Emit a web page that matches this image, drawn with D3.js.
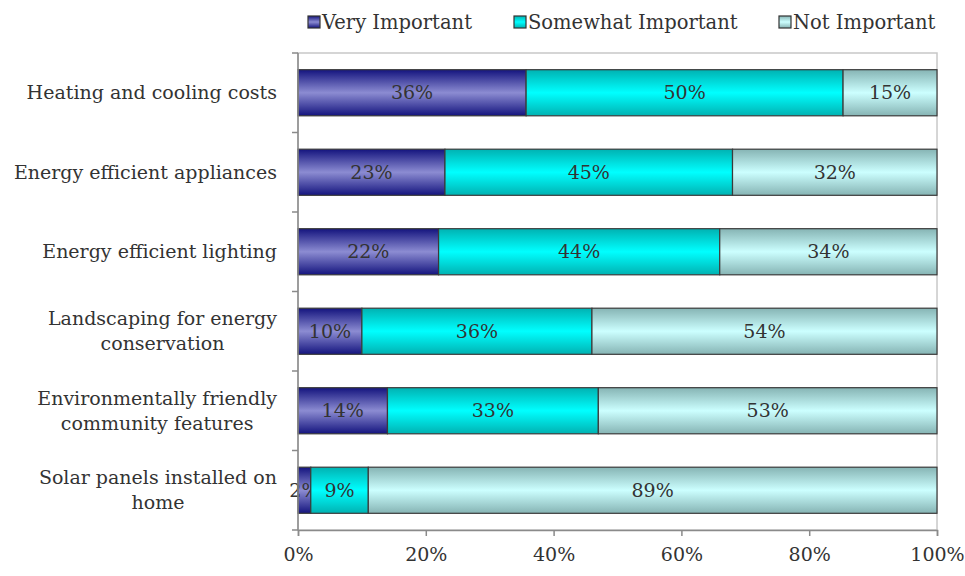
<!DOCTYPE html>
<html>
<head>
<meta charset="utf-8">
<script src="https://cdn.jsdelivr.net/npm/d3@7"></script>
<style>
  body { margin: 0; background: #fff; }
  text { font-family: "DejaVu Serif", "Liberation Serif", serif; fill: #333; }
</style>
</head>
<body>
<script>
// data
var categories = [
  "Heating and cooling costs",
  "Energy efficient appliances",
  "Energy efficient lighting",
  "Landscaping for energy|conservation",
  "Environmentally friendly|community features",
  "Solar panels installed on|home"
];
var seriesNames = ["Very Important", "Somewhat Important", "Not Important"];
var veryImportant = [35.7, 23, 22, 10, 14, 2];
var somewhatImportant = [49.6, 45, 44, 36, 33, 9];
var notImportant = [14.7, 32, 34, 54, 53, 89];
var xTicks = [0, 20, 40, 60, 80, 100];

var width = 965, height = 576;
var margin = {top: 53, right: 28, bottom: 46, left: 298};

var svg = d3.select("body").append("svg")
  .attr("width", width)
  .attr("height", height);

// gradients, light in the middle like the old office bars
var gradColors = [
  ["#14147e", "#8c8cd2"],
  ["#00b2b2", "#00ffff"],
  ["#86b4b4", "#ccffff"]
];
var defs = svg.append("defs");
gradColors.forEach(function(c, i) {
  var g = defs.append("linearGradient")
    .attr("id", "grad" + i)
    .attr("x1", 0).attr("y1", 0).attr("x2", 0).attr("y2", 1);
  g.append("stop").attr("offset", "0%").attr("stop-color", c[0]);
  g.append("stop").attr("offset", "50%").attr("stop-color", c[1]);
  g.append("stop").attr("offset", "100%").attr("stop-color", c[0]);
});

var rows = categories.map(function(c, i) {
  return {cat: c, very: veryImportant[i], some: somewhatImportant[i], not: notImportant[i]};
});
var keys = ["very", "some", "not"];
var stacked = d3.stack().keys(keys)(rows);

var x = d3.scaleLinear()
  .domain([0, 100])
  .range([margin.left, width - margin.right]);

var y = d3.scaleBand()
  .domain(categories)
  .range([margin.top, height - margin.bottom])
  .paddingInner(0.42)
  .paddingOuter(0.21);

// plot border (light)
svg.append("rect")
  .attr("x", x(0)).attr("y", margin.top)
  .attr("width", x(100) - x(0))
  .attr("height", height - margin.bottom - margin.top)
  .attr("fill", "none")
  .attr("stroke", "#c8c8c8")
  .attr("stroke-width", 1.5);

// bars
var layers = svg.append("g").selectAll("g")
  .data(stacked)
  .enter().append("g")
  .attr("fill", function(d, i) { return "url(#grad" + i + ")"; });

layers.selectAll("rect")
  .data(function(d) { return d; })
  .enter().append("rect")
  .attr("x", function(d) { return x(d[0]); })
  .attr("y", function(d) { return y(d.data.cat); })
  .attr("width", function(d) { return x(d[1]) - x(d[0]); })
  .attr("height", y.bandwidth())
  .attr("stroke", "#3a3a3a")
  .attr("stroke-width", 1.2);

// value labels
layers.selectAll("text")
  .data(function(d) { return d; })
  .enter().append("text")
  .attr("x", function(d) { return (x(d[0]) + x(d[1])) / 2; })
  .attr("y", function(d) { return y(d.data.cat) + y.bandwidth() / 2; })
  .attr("dy", "0.35em")
  .attr("text-anchor", "middle")
  .style("font-size", "19px")
  .text(function(d) { return Math.round(d[1] - d[0]) + "%"; });

// y axis
var yAxisG = svg.append("g").attr("transform", "translate(" + x(0) + ",0)");
yAxisG.append("line")
  .attr("x1", 0).attr("x2", 0)
  .attr("y1", margin.top).attr("y2", height - margin.bottom)
  .attr("stroke", "#8a8a8a").attr("stroke-width", 1.5);
d3.range(categories.length + 1).forEach(function(i) {
  var yy = margin.top + i * (height - margin.bottom - margin.top) / categories.length;
  yAxisG.append("line")
    .attr("x1", -6).attr("x2", 0)
    .attr("y1", yy).attr("y2", yy)
    .attr("stroke", "#8a8a8a").attr("stroke-width", 1.5);
});

// category labels, wrapped lines centred in a right aligned block
var labelRight = 277;
categories.forEach(function(c) {
  var lines = c.split("|");
  var g = svg.append("g");
  var cy = y(c) + y.bandwidth() / 2;
  var lh = 25;
  var texts = lines.map(function(l, j) {
    return g.append("text")
      .attr("y", cy + (j - (lines.length - 1) / 2) * lh)
      .attr("dy", "0.35em")
      .attr("text-anchor", "middle")
      .style("font-size", "19px")
      .text(l);
  });
  var w = d3.max(texts, function(t) { return t.node().getComputedTextLength(); });
  texts.forEach(function(t) { t.attr("x", labelRight - w / 2); });
});

// x axis
var xAxis = d3.axisBottom(x)
  .tickValues(xTicks)
  .tickSize(6)
  .tickPadding(12)
  .tickFormat(function(d) { return d + "%"; });
var xAxisG = svg.append("g")
  .attr("transform", "translate(0," + (height - margin.bottom) + ")")
  .call(xAxis);
xAxisG.select(".domain").attr("stroke", "#8a8a8a").attr("stroke-width", 1.5);
xAxisG.selectAll(".tick line").attr("stroke", "#8a8a8a").attr("stroke-width", 1.5);
xAxisG.selectAll(".tick text")
  .style("font-family", "'DejaVu Serif', serif")
  .style("font-size", "19px")
  .attr("fill", "#333");

// legend
var legendX = [308, 514, 779];
var legend = svg.append("g").selectAll("g")
  .data(seriesNames)
  .enter().append("g")
  .attr("transform", function(d, i) { return "translate(" + legendX[i] + ",16)"; });
legend.append("rect")
  .attr("width", 12).attr("height", 12)
  .attr("fill", function(d, i) { return "url(#grad" + i + ")"; })
  .attr("stroke", "#333").attr("stroke-width", 1.2);
legend.append("text")
  .attr("x", 14).attr("y", 6)
  .attr("dy", "0.35em")
  .style("font-size", "19.5px")
  .text(function(d) { return d; });
</script>
</body>
</html>
